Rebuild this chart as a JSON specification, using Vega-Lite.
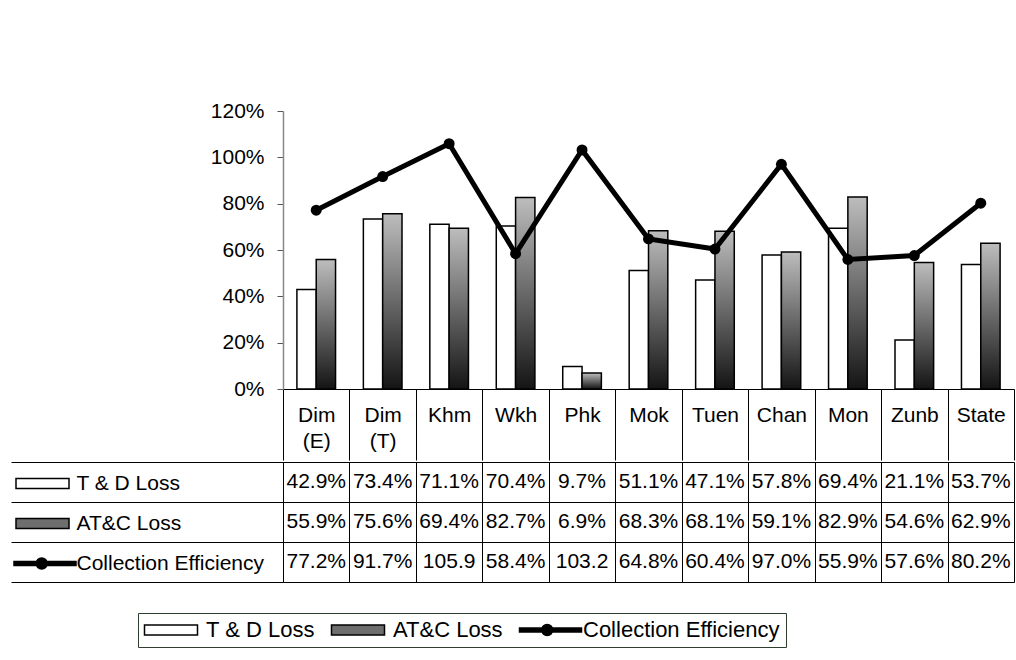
{
  "$schema": "https://vega.github.io/schema/vega-lite/v6.json",
  "padding": {"left": 10, "top": 100, "right": 0, "bottom": 0},
  "background": "white",
  "spacing": 0,
  "config": {
    "font": "Liberation Sans",
    "view": {"stroke": null},
    "axis": {"labelFont": "Liberation Sans", "labelFontSize": 21, "labelColor": "black", "title": null},
    "legend": {"labelFont": "Liberation Sans", "labelFontSize": 21, "labelColor": "black"}
  },
  "datasets": {
    "main": [
      {"region": "Dim (E)", "series": "T & D Loss", "value": 0.429, "label": "42.9%"},
      {"region": "Dim (T)", "series": "T & D Loss", "value": 0.734, "label": "73.4%"},
      {"region": "Khm", "series": "T & D Loss", "value": 0.711, "label": "71.1%"},
      {"region": "Wkh", "series": "T & D Loss", "value": 0.704, "label": "70.4%"},
      {"region": "Phk", "series": "T & D Loss", "value": 0.097, "label": "9.7%"},
      {"region": "Mok", "series": "T & D Loss", "value": 0.511, "label": "51.1%"},
      {"region": "Tuen", "series": "T & D Loss", "value": 0.471, "label": "47.1%"},
      {"region": "Chan", "series": "T & D Loss", "value": 0.578, "label": "57.8%"},
      {"region": "Mon", "series": "T & D Loss", "value": 0.694, "label": "69.4%"},
      {"region": "Zunb", "series": "T & D Loss", "value": 0.211, "label": "21.1%"},
      {"region": "State", "series": "T & D Loss", "value": 0.537, "label": "53.7%"},
      {"region": "Dim (E)", "series": "AT&C Loss", "value": 0.559, "label": "55.9%"},
      {"region": "Dim (T)", "series": "AT&C Loss", "value": 0.756, "label": "75.6%"},
      {"region": "Khm", "series": "AT&C Loss", "value": 0.694, "label": "69.4%"},
      {"region": "Wkh", "series": "AT&C Loss", "value": 0.827, "label": "82.7%"},
      {"region": "Phk", "series": "AT&C Loss", "value": 0.069, "label": "6.9%"},
      {"region": "Mok", "series": "AT&C Loss", "value": 0.683, "label": "68.3%"},
      {"region": "Tuen", "series": "AT&C Loss", "value": 0.681, "label": "68.1%"},
      {"region": "Chan", "series": "AT&C Loss", "value": 0.591, "label": "59.1%"},
      {"region": "Mon", "series": "AT&C Loss", "value": 0.829, "label": "82.9%"},
      {"region": "Zunb", "series": "AT&C Loss", "value": 0.546, "label": "54.6%"},
      {"region": "State", "series": "AT&C Loss", "value": 0.629, "label": "62.9%"},
      {"region": "Dim (E)", "series": "Collection Efficiency", "value": 0.772, "label": "77.2%"},
      {"region": "Dim (T)", "series": "Collection Efficiency", "value": 0.917, "label": "91.7%"},
      {"region": "Khm", "series": "Collection Efficiency", "value": 1.059, "label": "105.9"},
      {"region": "Wkh", "series": "Collection Efficiency", "value": 0.584, "label": "58.4%"},
      {"region": "Phk", "series": "Collection Efficiency", "value": 1.032, "label": "103.2"},
      {"region": "Mok", "series": "Collection Efficiency", "value": 0.648, "label": "64.8%"},
      {"region": "Tuen", "series": "Collection Efficiency", "value": 0.604, "label": "60.4%"},
      {"region": "Chan", "series": "Collection Efficiency", "value": 0.970, "label": "97.0%"},
      {"region": "Mon", "series": "Collection Efficiency", "value": 0.559, "label": "55.9%"},
      {"region": "Zunb", "series": "Collection Efficiency", "value": 0.576, "label": "57.6%"},
      {"region": "State", "series": "Collection Efficiency", "value": 0.802, "label": "80.2%"}
    ]
  },
  "resolve": {
    "scale": {"x": "independent", "y": "independent", "fill": "independent", "stroke": "independent", "shape": "independent"},
    "legend": {"fill": "independent", "stroke": "independent", "shape": "independent"}
  },
  "vconcat": [
    {
      "width": 731,
      "height": 278,
      "data": {"name": "main"},
      "encoding": {
        "x": {
          "field": "region", "type": "nominal", "sort": null,
          "scale": {"domain": ["Dim (E)", "Dim (T)", "Khm", "Wkh", "Phk", "Mok", "Tuen", "Chan", "Mon", "Zunb", "State"], "paddingInner": 0, "paddingOuter": 0},
          "axis": {"orient": "bottom", "title": null, "tickBand": "extent", "tickSize": 71, "tickColor": "black", "tickWidth": 1, "domainColor": "black", "domainWidth": 1,
            "labelExpr": "split(datum.label, ' ')",
            "labelPadding": -45, "labelBaseline": "middle", "labelLineHeight": 26, "labelAngle": 0, "labelFontSize": 21, "labelOverlap": false, "labelFlush": false}
        },
        "y": {
          "field": "value", "type": "quantitative",
          "scale": {"domain": [0, 1.2], "nice": false},
          "axis": {"values": [0, 0.2, 0.4, 0.6, 0.8, 1.0, 1.2], "format": ".0%", "grid": false, "tickSize": 6, "tickColor": "#555", "domainColor": "#888", "domainWidth": 1.5, "labelPadding": 13, "title": null, "labelFontSize": 21}
        }
      },
      "layer": [
        {
          "transform": [{"filter": "datum.series == 'T & D Loss'"}],
          "mark": {"type": "bar", "fill": "white", "stroke": "black", "strokeWidth": 1.5},
          "encoding": {
            "xOffset": {"field": "series", "type": "nominal", "scale": {"domain": ["T & D Loss", "AT&C Loss"], "paddingInner": 0, "paddingOuter": 0.72}}
          }
        },
        {
          "transform": [{"filter": "datum.series == 'AT&C Loss'"}],
          "mark": {"type": "bar", "stroke": "black", "strokeWidth": 1.5,
            "fill": {"gradient": "linear", "x1": 0, "y1": 1, "x2": 0, "y2": 0, "stops": [{"offset": 0, "color": "#141414"}, {"offset": 1, "color": "#bdbdbd"}]}},
          "encoding": {
            "xOffset": {"field": "series", "type": "nominal", "scale": {"domain": ["T & D Loss", "AT&C Loss"], "paddingInner": 0, "paddingOuter": 0.72}}
          }
        },
        {
          "transform": [{"filter": "datum.series == 'Collection Efficiency'"}],
          "mark": {"type": "line", "color": "black", "strokeWidth": 5, "point": {"filled": true, "size": 120, "color": "black"}}
        }
      ]
    },
    {
      "width": 731,
      "height": 120,
      "data": {"name": "main"},
      "encoding": {
        "x": {
          "field": "region", "type": "nominal", "sort": null,
          "scale": {"domain": ["Dim (E)", "Dim (T)", "Khm", "Wkh", "Phk", "Mok", "Tuen", "Chan", "Mon", "Zunb", "State"], "paddingInner": 0, "paddingOuter": 0},
          "axis": {"labels": false, "ticks": false, "domain": false, "grid": true, "gridColor": "black", "gridOpacity": 1, "gridWidth": 1, "tickBand": "extent", "title": null}
        },
        "y": {
          "field": "series", "type": "nominal",
          "scale": {"domain": ["T & D Loss", "AT&C Loss", "Collection Efficiency"], "paddingInner": 0, "paddingOuter": 0},
          "axis": {"labels": false, "ticks": true, "tickSize": 272, "tickColor": "black", "tickBand": "extent", "grid": true, "gridColor": "black", "gridOpacity": 1, "domain": true, "domainColor": "black", "title": null}
        }
      },
      "resolve": {
        "scale": {"fill": "independent", "stroke": "independent", "shape": "independent"},
        "legend": {"fill": "independent", "stroke": "independent", "shape": "independent"}
      },
      "layer": [
        {
          "mark": {"type": "text", "fontSize": 21, "font": "Liberation Sans", "baseline": "middle", "align": "center", "color": "black"},
          "encoding": {"text": {"field": "label"}}
        },
        {
          "mark": {"type": "point", "filled": true, "opacity": 0},
          "encoding": {
            "fill": {"field": "series", "type": "nominal",
              "scale": {"domain": ["T & D Loss", "AT&C Loss", "Collection Efficiency"], "range": ["white", "#6e6e6e", "black"]},
              "legend": {"orient": "none", "legendX": -267, "legendY": 11, "direction": "vertical", "title": null, "padding": 0, "symbolSize": 100, "symbolStrokeWidth": 1.5, "symbolOpacity": 1, "labelOffset": 39.5, "rowPadding": 18, "labelLimit": 400, "labelBaseline": "middle"}},
            "stroke": {"field": "series", "type": "nominal",
              "scale": {"domain": ["T & D Loss", "AT&C Loss", "Collection Efficiency"], "range": ["black", "black", "black"]},
              "legend": {"orient": "none", "legendX": -267, "legendY": 11, "direction": "vertical", "title": null, "padding": 0, "symbolSize": 100, "symbolStrokeWidth": 1.5, "symbolOpacity": 1, "labelOffset": 39.5, "rowPadding": 18, "labelLimit": 400, "labelBaseline": "middle"}},
            "shape": {"field": "series", "type": "nominal",
              "scale": {"domain": ["T & D Loss", "AT&C Loss", "Collection Efficiency"], "range": ["M-2.1,-1H8.5V1H-2.1Z", "M-2.1,-1H8.5V1H-2.1Z", "M-2.5,-0.4H9.9V0.4H-2.5Z M1.94,0A1.1,1.1 0 1,1 4.14,0A1.1,1.1 0 1,1 1.94,0Z"]},
              "legend": {"orient": "none", "legendX": -267, "legendY": 11, "direction": "vertical", "title": null, "padding": 0, "symbolSize": 100, "symbolStrokeWidth": 1.5, "symbolOpacity": 1, "labelOffset": 39.5, "rowPadding": 18, "labelLimit": 400, "labelBaseline": "middle"}}
          }
        },
        {
          "mark": {"type": "point", "filled": true, "opacity": 0},
          "encoding": {
            "fill": {"field": "series", "type": "nominal",
              "scale": {"domain": ["T & D Loss", "AT&C Loss", "Collection Efficiency"], "range": ["white", "#6e6e6e", "black"]},
              "legend": {"orient": "none", "legendX": -145, "legendY": 151, "direction": "horizontal", "title": null, "padding": 6, "strokeColor": "#2f3f2f", "fillColor": "white", "symbolSize": 100, "symbolStrokeWidth": 1.5, "symbolOpacity": 1, "labelOffset": 40, "columnPadding": 13, "labelLimit": 400, "labelBaseline": "middle", "labelFontSize": 22}},
            "stroke": {"field": "series", "type": "nominal",
              "scale": {"domain": ["T & D Loss", "AT&C Loss", "Collection Efficiency"], "range": ["black", "black", "black"]},
              "legend": {"orient": "none", "legendX": -145, "legendY": 151, "direction": "horizontal", "title": null, "padding": 6, "strokeColor": "#2f3f2f", "fillColor": "white", "symbolSize": 100, "symbolStrokeWidth": 1.5, "symbolOpacity": 1, "labelOffset": 40, "columnPadding": 13, "labelLimit": 400, "labelBaseline": "middle", "labelFontSize": 22}},
            "shape": {"field": "series", "type": "nominal",
              "scale": {"domain": ["T & D Loss", "AT&C Loss", "Collection Efficiency"], "range": ["M-2.1,-1H8.5V1H-2.1Z", "M-2.1,-1H8.5V1H-2.1Z", "M-2.5,-0.4H9.9V0.4H-2.5Z M1.94,0A1.1,1.1 0 1,1 4.14,0A1.1,1.1 0 1,1 1.94,0Z"]},
              "legend": {"orient": "none", "legendX": -145, "legendY": 151, "direction": "horizontal", "title": null, "padding": 6, "strokeColor": "#2f3f2f", "fillColor": "white", "symbolSize": 100, "symbolStrokeWidth": 1.5, "symbolOpacity": 1, "labelOffset": 40, "columnPadding": 13, "labelLimit": 400, "labelBaseline": "middle", "labelFontSize": 22}}
          }
        }
      ]
    }
  ]
}
